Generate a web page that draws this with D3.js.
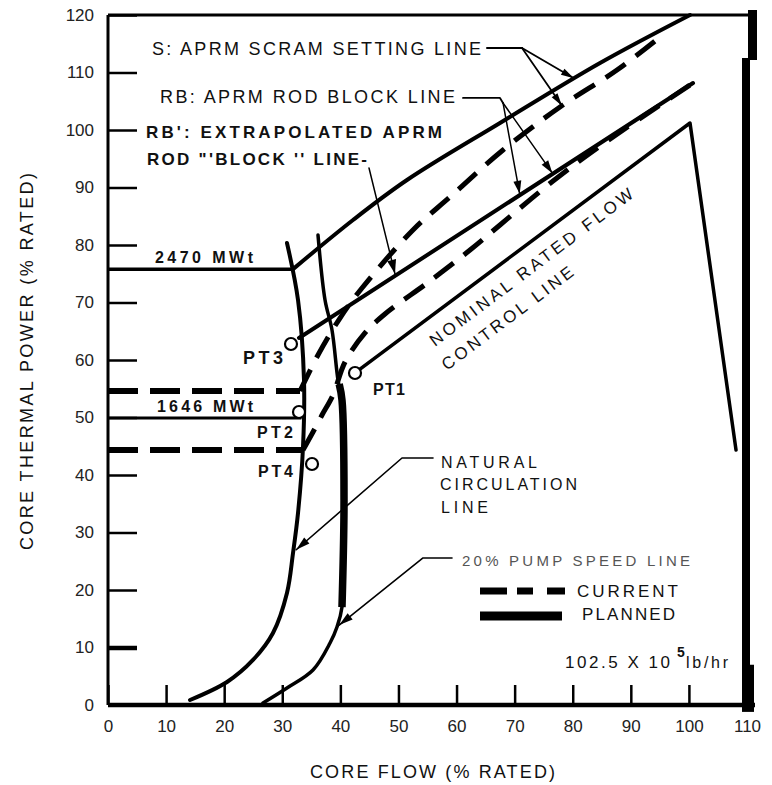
<!DOCTYPE html>
<html><head><meta charset="utf-8">
<script src="https://cdn.jsdelivr.net/npm/d3@7"></script>
<style>
html,body{margin:0;padding:0;background:#fff;}
svg{display:block;}
text{font-family:"Liberation Sans",Arial,Helvetica,sans-serif;fill:#111;}
</style></head><body>
<svg id="chart" width="772" height="785"></svg>
<script>
// ---------------- data ----------------
const xTickValues = [0,10,20,30,40,50,60,70,80,90,100,110];
const xTickLabels = ["0","10","20","30","40","50","60","70","80","90","100","110"];
const yTickValues = [0,10,20,30,40,50,60,70,80,90,100,110,120];
const yTickLabels = ["0","10","20","30","40","50","60","70","80","90","100","110","120"];

// [core flow %, core thermal power %]
const naturalCirculationLine = [[14.12,0.87],[20.49,4.0],[24.96,7.83],[28.40,12.52],[30.81,19.48],[31.85,26.43],[32.71,33.39],[33.57,44.87],[33.74,56.52],[32.71,70.43],[30.81,80.35]];
const pumpSpeed20Line = [[26.68,0.35],[30.81,2.96],[35.29,6.09],[38.22,10.78],[39.42,13.57],[40.28,17.04],[40.63,35.65],[40.28,53.04],[39.59,56.52],[38.56,65.22],[37.36,70.43],[36.15,81.74]];
const pumpSpeed20Heavy = [[40.28,17.04],[40.63,35.65],[40.28,53.04],[39.8,55.8]];
const scramPlanned = [[31.85,75.8],[42.18,84.35],[51.47,91.30],[67.48,101.22],[84.70,111.65],[100.19,120.0]];
const scramCurrent = [[33.05,54.6],[36.15,60.87],[39.94,67.30],[43.73,72.52],[52.50,82.61],[58.87,88.35],[68.0,96.52],[77.81,104.0],[87.62,110.43],[95.03,116.17]];
const rodBlockPlanned = [[32.88,63.83],[100.71,108.17]];
const rodBlockCurrent = [[33.57,44.35],[35.29,47.48],[36.84,50.43],[38.73,53.91],[40.80,59.65],[44.24,64.70],[47.68,68.0],[55.43,73.74],[62.32,79.13],[67.48,83.48],[76.61,91.13],[84.70,97.22],[100.71,108.17]];
const nominalFlowControl = [[43.38,58.43],[100.19,101.22],[108.11,44.35]];
const clamp2470 = [[0,75.8],[31.85,75.8]];
const clamp1646 = [[0,49.9],[33.3,49.9]];
const clampCurrentScram = [[0,54.6],[33.05,54.6]];
const clampCurrentRodBlock = [[0,44.35],[33.57,44.35]];
const statePointNames = ["PT1","PT2","PT3","PT4"];
const statePointFlow  = [42.52,32.88,31.50,35.12];
const statePointPower = [57.74,50.96,62.78,41.91];

// leader lines (annotation pointers)
const leaderScram = [[65.24,114.26],[71.27,114.26]];
const leaderScramTips = [[80.2,109.0],[78.15,104.2]];
const leaderRodBlock = [[61.11,105.57],[67.48,105.57],[68.0,104.70]];
const leaderRodBlockTips = [[70.87,88.9],[76.5,92.5]];
const leaderExtrap = [[44.93,93.39],[49.4,75.0]];
const leaderNatural = [[55.95,42.96],[50.61,42.96],[32.4,27.0]];
const leaderPump = [[59.22,25.57],[54.23,25.57],[39.8,13.9]];

// ---------------- drawing ----------------
const svg = d3.select("#chart");
const x = d3.scaleLinear().domain([0,110]).range([108,747]);
const y = d3.scaleLinear().domain([0,120]).range([705,15]);
const smooth = d3.line().x(d=>x(d[0])).y(d=>y(d[1])).curve(d3.curveCatmullRom.alpha(0.5));
const straight = d3.line().x(d=>x(d[0])).y(d=>y(d[1]));

function drawPath(data, gen, w, dash, cap){
  return svg.append("path").attr("d", gen(data)).attr("fill","none").attr("stroke","#000")
    .attr("stroke-width", w).attr("stroke-dasharray", dash || null)
    .attr("stroke-linecap", cap || "round").attr("stroke-linejoin","round");
}
function arrow(from, tip, L, h){
  L = L || 11; h = h || 3.5;
  const x0=x(from[0]), y0=y(from[1]), x1=x(tip[0]), y1=y(tip[1]);
  const a=Math.atan2(y1-y0, x1-x0);
  const bx=x1-L*Math.cos(a), by=y1-L*Math.sin(a);
  const pts=[[x1,y1],[bx+h*Math.sin(a),by-h*Math.cos(a)],[bx-h*Math.sin(a),by+h*Math.cos(a)]];
  svg.append("path").attr("d","M"+pts.map(p=>p.join(",")).join("L")+"Z").attr("fill","#000");
}
function label(str, px, py, o){
  o = o || {};
  const t = svg.append("text").attr("x",px).attr("y",py).text(str)
    .attr("font-size", o.size || 16).attr("font-weight", o.weight || "normal");
  if (o.len) t.attr("textLength", o.len).attr("lengthAdjust","spacing");
  if (o.anchor) t.attr("text-anchor", o.anchor);
  if (o.rotate !== undefined) t.attr("transform", `rotate(${o.rotate},${px},${py})`);
  if (o.fill) t.style("fill", o.fill);
  return t;
}

// axes
const yAxis = d3.axisLeft(y).tickValues(yTickValues).tickSize(-29).tickPadding(14)
  .tickFormat((d,i)=>yTickLabels[i]);
const gy = svg.append("g").attr("transform",`translate(${x(0)},0)`).call(yAxis);
gy.select(".domain").remove();
gy.selectAll(".tick line").attr("stroke","#000").attr("stroke-width",(d)=>d===10?4.5:2.5);
gy.selectAll("text").attr("font-size",17).attr("font-family","Liberation Sans, Arial, sans-serif").style("fill","#222");

const xAxis = d3.axisBottom(x).tickValues(xTickValues).tickSize(-20).tickPadding(15)
  .tickFormat((d,i)=>xTickLabels[i]);
const gx = svg.append("g").attr("transform",`translate(0,${y(0)})`).call(xAxis);
gx.select(".domain").remove();
gx.selectAll(".tick line").attr("stroke","#000").attr("stroke-width",2.5);
gx.selectAll("text").attr("font-size",17).attr("font-family","Liberation Sans, Arial, sans-serif").style("fill","#222");

// frame
svg.append("line").attr("x1",x(0)).attr("x2",x(0)).attr("y1",y(120)).attr("y2",y(0)).attr("stroke","#000").attr("stroke-width",3);
svg.append("line").attr("x1",x(0)).attr("x2",x(110)+8).attr("y1",y(0)).attr("y2",y(0)).attr("stroke","#000").attr("stroke-width",4.5);
svg.append("line").attr("x1",x(0)).attr("x2",x(110)+10).attr("y1",y(120)).attr("y2",y(120)).attr("stroke","#000").attr("stroke-width",3);
svg.append("rect").attr("x",x(110)-5).attr("y",y(120)+43).attr("width",8).attr("height",y(0)-y(120)-43).attr("fill","#000");
svg.append("rect").attr("x",x(110)+1).attr("y",y(120)-5).attr("width",9).attr("height",50).attr("fill","#000");
svg.append("rect").attr("x",x(110)-5).attr("y",y(7)).attr("width",12).attr("height",y(-1.2)-y(7)).attr("fill","#000");

// clamp lines
drawPath(clamp2470, straight, 3.5, null, "butt");
drawPath(clamp1646, straight, 3, null, "butt");
drawPath(clampCurrentScram, straight, 6, "30,12", "butt");
drawPath(clampCurrentRodBlock, straight, 6, "30,12", "butt");

// main lines
drawPath(naturalCirculationLine, smooth, 4);
drawPath(pumpSpeed20Line, smooth, 3.5);
drawPath(pumpSpeed20Heavy, smooth, 7.5, null, "butt");
drawPath(scramPlanned, smooth, 4);
drawPath(scramCurrent, smooth, 5, "24,13", "butt");
drawPath(rodBlockPlanned, straight, 4);
drawPath(rodBlockCurrent, smooth, 5, "24,13", "butt");
drawPath(nominalFlowControl, straight, 3.5);

// state points
statePointNames.forEach((n,i)=>{
  svg.append("circle").attr("cx",x(statePointFlow[i])).attr("cy",y(statePointPower[i]))
    .attr("r",6).attr("fill","#fff").attr("stroke","#000").attr("stroke-width",2.2);
});

// leaders
drawPath(leaderScram, straight, 2);
leaderScramTips.forEach(t=>{ drawPath([leaderScram[1],t], straight, 1.8); arrow(leaderScram[1], t, 13, 3.5); });
drawPath(leaderRodBlock, straight, 1.8);
leaderRodBlockTips.forEach(t=>{ drawPath([leaderRodBlock[2],t], straight, 1.5); arrow(leaderRodBlock[2], t, 13, 4); });
drawPath(leaderExtrap, straight, 1.5); arrow(leaderExtrap[0], leaderExtrap[1], 14, 4.5);
drawPath(leaderNatural, straight, 1.6); arrow(leaderNatural[1], leaderNatural[2], 14, 4);
drawPath(leaderPump, straight, 1.6); arrow(leaderPump[1], leaderPump[2], 14, 4);

// legend samples
svg.append("line").attr("x1",480).attr("x2",565).attr("y1",591).attr("y2",591).attr("stroke","#000").attr("stroke-width",7).attr("stroke-dasharray","27,10,16,14");
svg.append("line").attr("x1",480).attr("x2",562).attr("y1",616).attr("y2",616).attr("stroke","#000").attr("stroke-width",9);

// text labels
label("S: APRM SCRAM SETTING LINE", 152, 55, {size:18, len:329});
label("RB: APRM ROD BLOCK LINE", 160, 103, {size:18, len:295});
label("RB': EXTRAPOLATED APRM", 146, 138, {size:17, len:296, weight:"bold"});
label("ROD \"'BLOCK '' LINE-", 147, 165, {size:17, len:220, weight:"bold"});
label("2470 MWt", 155, 263, {size:16, len:98, weight:"bold"});
label("1646 MWt", 157, 412, {size:16, len:96, weight:"bold"});
label("PT3", 243, 364, {size:18, len:40, weight:"bold"});
label("PT2", 257, 438, {size:16, len:36, weight:"bold"});
label("PT4", 258, 477, {size:16, len:35, weight:"bold"});
label("PT1", 373, 395, {size:16, len:32, weight:"bold"});
label("NOMINAL RATED FLOW", 435, 347, {size:17, len:250, rotate:-37});
label("CONTROL LINE", 447, 371, {size:17, len:160, rotate:-37});
label("NATURAL", 441, 468, {size:16, len:96});
label("CIRCULATION", 440, 490, {size:16, len:137});
label("LINE", 441, 513, {size:16, len:47});
label("20% PUMP SPEED LINE", 462, 566, {size:15, len:228, fill:"#555"});
label("CURRENT", 577, 597, {size:17, len:101});
label("PLANNED", 582, 620, {size:17, len:93});
label("102.5 X 10", 565, 668, {size:17, len:105});
label("5", 677, 657, {size:14, weight:"bold"});
label("lb/hr", 686, 668, {size:16, len:42});

// axis titles
label("CORE FLOW (% RATED)", 310, 778, {size:18, len:245});
label("CORE THERMAL POWER (% RATED)", 33, 550, {size:18, len:377, rotate:-90});
</script>
</body></html>
